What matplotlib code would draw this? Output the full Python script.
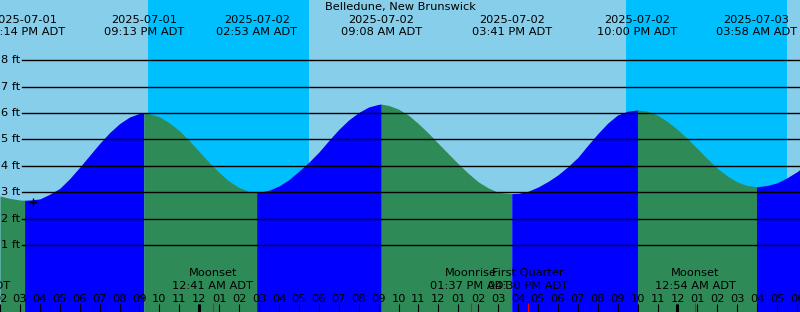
import numpy as np
import matplotlib
matplotlib.use('Agg')
import matplotlib.pyplot as plt

# all times are hours counted from 2025-07-02 00:00 ADT
# tide heights (ft) read every half hour off the graph
hours = [-10, -9.5, -9, -8.5, -8, -7.5, -7, -6.5, -6, -5.5, -5, -4.5, -4, -3.5,
         -3, -2.5, -2, -1.5, -1, -0.5, 0, 0.5, 1, 1.5, 2, 2.5, 3, 3.5, 4, 4.5,
         5, 5.5, 6, 6.5, 7, 7.5, 8, 8.5, 9, 9.5, 10, 10.5, 11, 11.5, 12, 12.5,
         13, 13.5, 14, 14.5, 15, 15.5, 16, 16.5, 17, 17.5, 18, 18.5, 19, 19.5,
         20, 20.5, 21, 21.5, 22.5, 23, 23.5, 24, 24.5, 25, 25.5, 26, 26.5, 27,
         27.5, 28, 28.5, 29, 29.5, 30, 30.5, 31]
heights = [2.86, 2.77, 2.71, 2.71, 2.75, 2.93, 3.15, 3.52, 3.95, 4.40, 4.85,
           5.26, 5.60, 5.85, 5.99, 5.97, 5.86, 5.63, 5.33, 4.95, 4.54, 4.13,
           3.75, 3.42, 3.18, 3.03, 3.00, 3.08, 3.24, 3.48, 3.80, 4.14, 4.52,
           4.96, 5.38, 5.74, 6.02, 6.23, 6.33, 6.29, 6.15, 5.92, 5.60, 5.24,
           4.85, 4.46, 4.08, 3.72, 3.40, 3.17, 3.00, 2.96, 2.96, 3.04, 3.20,
           3.41, 3.66, 3.97, 4.32, 4.78, 5.22, 5.62, 5.93, 6.07, 6.07, 5.92,
           5.68, 5.38, 5.03, 4.65, 4.27, 3.91, 3.62, 3.39, 3.26, 3.21, 3.26,
           3.36, 3.55, 3.78, 4.07, 4.40]

# high / low tides
ext_hours = [-8.767, -2.783, 2.883, 9.133, 15.683, 22.0, 27.967]
ext_heights = [2.70, 6.00, 3.00, 6.34, 2.95, 6.12, 3.21]
ext_dates = ['2025-07-01', '2025-07-01', '2025-07-02', '2025-07-02',
             '2025-07-02', '2025-07-02', '2025-07-03']
ext_times = ['03:14 PM ADT', '09:13 PM ADT', '02:53 AM ADT', '09:08 AM ADT',
             '03:41 PM ADT', '10:00 PM ADT', '03:58 AM ADT']

# sunset -> sunrise
nights = [(-2.55, 5.5), (21.4, 29.5)]

moon_hours = [-11.5, 0.683, 13.617, 16.5, 24.9]
moon_names = ['Moonrise', 'Moonset', 'Moonrise', 'First Quarter', 'Moonset']
moon_times = ['12:30 PM ADT', '12:41 AM ADT', '01:37 PM ADT', '04:30 PM ADT',
              '12:54 AM ADT']

hour_ticks = list(range(-10, 31))
hour_labels = ['02', '03', '04', '05', '06', '07', '08', '09', '10', '11',
               '12', '01', '02', '03', '04', '05', '06', '07', '08', '09',
               '10', '11', '12', '01', '02', '03', '04', '05', '06', '07',
               '08', '09', '10', '11', '12', '01', '02', '03', '04', '05', '06']
midnights = [0, 24]
ft_levels = [1, 2, 3, 4, 5, 6, 7, 8]

now_hour, now_height = -8.35, 2.63

fs = 8.2
plt.rcParams['font.family'] = 'DejaVu Sans'

fig = plt.figure(figsize=(8, 3.12), dpi=100)
ax = fig.add_axes([0, 0, 1, 1])
ax.set_xlim(-9.85, 30.15)
ax.set_ylim(-1.53, 10.28)
ax.set_facecolor('#87CEEB')
for s in ax.spines.values():
    s.set_visible(False)

for a, b in nights:
    ax.axvspan(a, b, color='#00BFFF', lw=0, zorder=0)

# tide curve, blue while rising, green while falling
t = np.array(hours + ext_hours, dtype=float)
h = np.array(heights + ext_heights, dtype=float)
order = np.argsort(t)
t, h = t[order], h[order]
bounds = [-np.inf] + ext_hours + [np.inf]
for lo, hi in zip(bounds[:-1], bounds[1:]):
    m = (t >= lo) & (t <= hi)
    tt, hh = t[m], h[m]
    col = '#0000FF' if hh[-1] > hh[0] else '#2E8B57'
    ax.fill_between(tt, hh, -2, color=col, lw=0, zorder=1)

for y in ft_levels:
    ax.axhline(y, xmin=22 / 800, xmax=1, color='black', lw=1, zorder=2)
    ax.text(20 / 800, y, f'{y} ft', transform=ax.get_yaxis_transform(),
            ha='right', va='center', fontsize=fs, zorder=3)

ax.plot(now_hour, now_height, marker='+', color='black', ms=6, mew=1, zorder=4)

xt = ax.get_xaxis_transform()
ax.text(0.5, 1 - 7 / 312, 'Belledune, New Brunswick', transform=ax.transAxes,
        ha='center', va='center', fontsize=fs)
for x, d, tm in zip(ext_hours, ext_dates, ext_times):
    ax.text(x, 1 - 20 / 312, d, transform=xt, ha='center', va='center', fontsize=fs)
    ax.text(x, 1 - 32 / 312, tm, transform=xt, ha='center', va='center', fontsize=fs)

for x, n, tm in zip(moon_hours, moon_names, moon_times):
    ax.text(x, 1 - 273 / 312, n, transform=xt, ha='center', va='center', fontsize=fs)
    ax.text(x, 1 - 286 / 312, tm, transform=xt, ha='center', va='center', fontsize=fs)

ax.set_yticks([])
ax.set_xticks(hour_ticks, hour_labels)
ax.tick_params(axis='x', direction='in', length=5.8, width=0.8, pad=-13.3,
               labelsize=fs, colors='black')
ax.vlines(midnights, 0, 8 / 312, transform=xt, color='black', lw=2.2, zorder=5)
ax.vlines(moon_hours, 0, 9 / 312, transform=xt, color='red', lw=0.8, zorder=5)

fig.savefig('out.png', dpi=100)
